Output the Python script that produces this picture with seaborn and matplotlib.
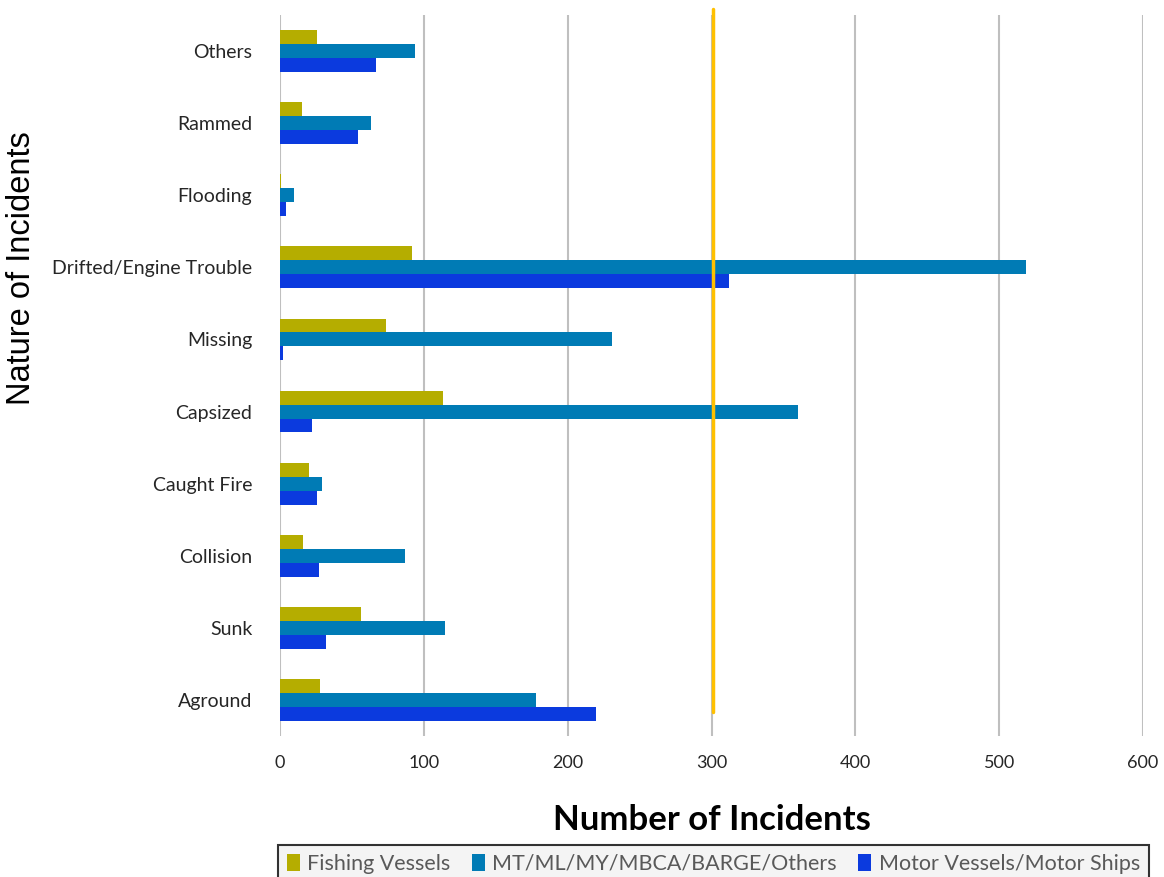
import matplotlib
matplotlib.use("Agg")
import matplotlib.pyplot as plt
import seaborn as sns
import pandas as pd

categories = ["Others", "Rammed", "Flooding", "Drifted/Engine Trouble", "Missing",
              "Capsized", "Caught Fire", "Collision", "Sunk", "Aground"]
series_names = ["Fishing Vessels", "MT/ML/MY/MBCA/BARGE/Others", "Motor Vessels/Motor Ships"]
fishing = [26, 15, 1, 92, 74, 113, 20, 16, 56, 28]
mt_ml = [94, 63, 10, 519, 231, 360, 29, 87, 115, 178]
motor = [67, 54, 4, 312, 2, 22, 26, 27, 32, 220]
x_ticks = [0, 100, 200, 300, 400, 500, 600]
ref_line = 301

colors = ["#b5ad00", "#007bb5", "#0b3ade"]

rows = []
for name, vals in zip(series_names, [fishing, mt_ml, motor]):
    for c, v in zip(categories, vals):
        rows.append({"Nature": c, "Count": v, "Type": name})
df = pd.DataFrame(rows)

sns.set_theme(style="white")
plt.rcParams['font.family'] = ['Lato', 'DejaVu Sans']

fig = plt.figure(figsize=(11.64, 8.77), dpi=100)
ax = fig.add_axes([280/1164, 1-736/877, (1143-280)/1164, (736-15)/877])

sns.barplot(data=df, y="Nature", x="Count", hue="Type", order=categories,
            hue_order=series_names, palette=colors, orient="h", width=0.58,
            saturation=1, ax=ax, legend=True, edgecolor="none")

ax.set_xlim(0, 600)
ax.set_xticks(x_ticks)
ax.set_xticklabels([str(t) for t in x_ticks], fontsize=13)
ax.tick_params(axis="x", length=0, pad=14)
ax.tick_params(axis="y", length=0, pad=20)
for lbl in ax.get_yticklabels():
    lbl.set_fontsize(14)
ax.grid(axis="x", color="#bfbfbf", linewidth=1.5)
ax.set_axisbelow(True)
for s in ax.spines.values():
    s.set_visible(False)
ax.set_xlabel("")
ax.set_ylabel("")

ax.axvline(ref_line, ymin=0.033, ymax=1.008, color="#ffc000", linewidth=2.5, clip_on=False, zorder=5)

fig.text(712/1164, 1-820/877, "Number of Incidents", ha="center", va="center",
         fontsize=25, fontweight="bold", color="black")
fig.text(22/1164, 1-268/877, "Nature of Incidents", ha="center", va="center",
         rotation=90, fontsize=23.5, family=["Liberation Sans", "DejaVu Sans"], color="black")

handles, labels = ax.get_legend_handles_labels()
ax.get_legend().remove()
leg = fig.legend(handles, labels, loc="upper left", ncol=3,
                 bbox_to_anchor=(278/1164, 1-845/877), fontsize=15.5,
                 frameon=True, fancybox=False, edgecolor="black",
                 facecolor="#f2f2f2", handlelength=0.6, handleheight=0.85,
                 handletextpad=0.35, columnspacing=1.0, borderpad=0.4,
                 borderaxespad=0)
leg.get_frame().set_linewidth(1.5)
for t in leg.get_texts():
    t.set_color("#595959")

fig.savefig("out.png", dpi=100)
